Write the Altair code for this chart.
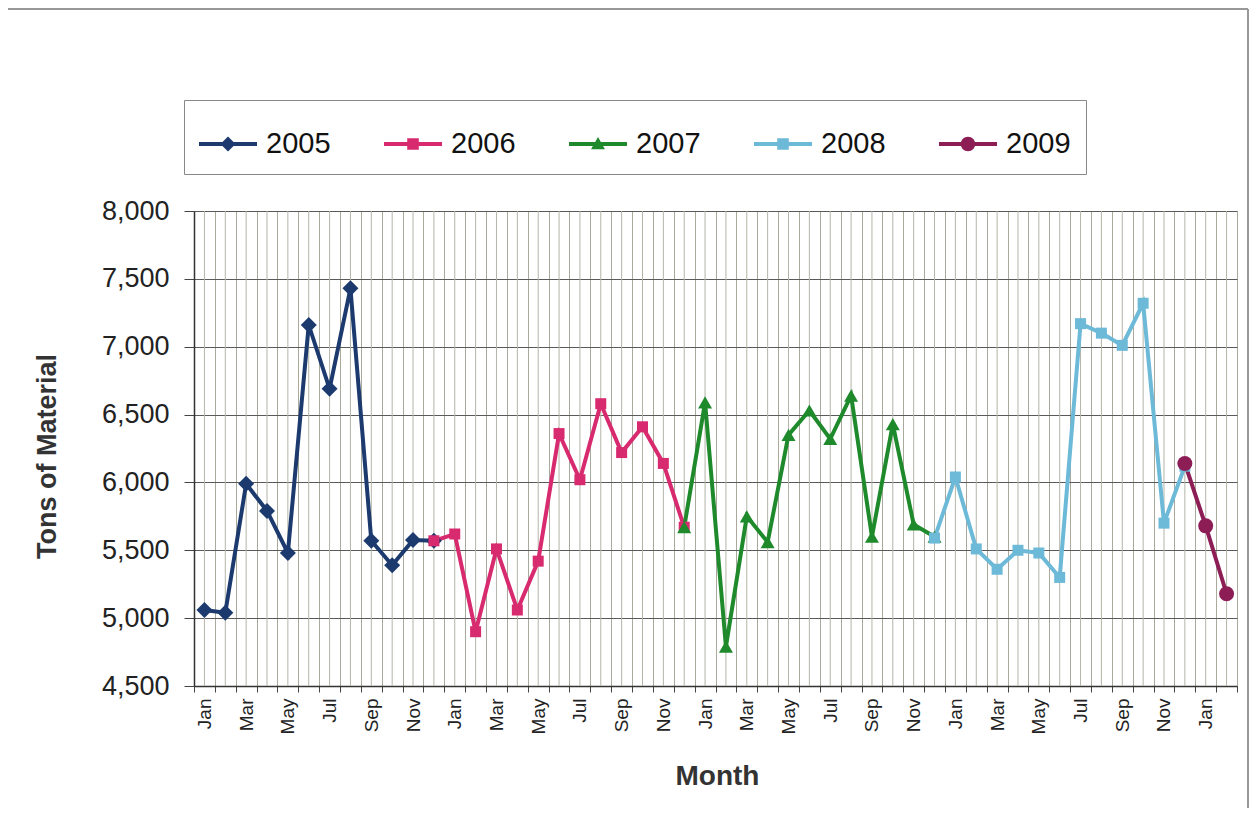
import altair as alt
import pandas as pd

# ---------------- data ----------------
YEARS = ["2005", "2006", "2007", "2008", "2009"]
# every other month is labelled on the axis
AXIS_LABELS = ["Jan", "", "Mar", "", "May", "", "Jul", "", "Sep", "", "Nov", ""]

# category axis: Jan 2005 .. Feb 2009
MONTH_KEYS = [f"{y}-{m:02d}" for y in (2005, 2006, 2007, 2008) for m in range(1, 13)]
MONTH_KEYS += ["2009-01", "2009-02"]

# each series starts at December of the previous year (joins the lines)
SERIES_START = ["2005-01", "2005-12", "2006-12", "2007-12", "2008-12"]
V2005 = [5060, 5040, 5990, 5790, 5480, 7160, 6690, 7430, 5570, 5390, 5575, 5570]
V2006 = [5570, 5620, 4900, 5510, 5060, 5420, 6360, 6020, 6580, 6220, 6410, 6140, 5670]
V2007 = [5670, 6590, 4790, 5750, 5560, 6350, 6530, 6320, 6640, 5600, 6430, 5690, 5600]
V2008 = [5590, 6040, 5510, 5360, 5500, 5480, 5300, 7170, 7100, 7010, 7320, 5700, 6120]
V2009 = [6140, 5680, 5180]
SERIES_VALUES = [V2005, V2006, V2007, V2008, V2009]

COLORS = ["#1C3A6E", "#D82A6E", "#1F8A2C", "#6DB9D8", "#8C1D55"]
SHAPES = ["diamond", "square", "triangle-up", "square", "circle"]
SIZES = [256, 121, 196, 121, 225]

LINE = "M-1,-0.07H1V0.07H-1Z"
LEGEND_PATHS = [
    LINE + "M0,-0.26L0.26,0L0,0.26L-0.26,0Z",
    LINE + "M-0.2,-0.2H0.2V0.2H-0.2Z",
    LINE + "M0,-0.24L0.24,0.18L-0.24,0.18Z",
    LINE + "M-0.2,-0.2H0.2V0.2H-0.2Z",
    LINE + "M0.25,0A0.25,0.25 0 1,1 -0.25,0A0.25,0.25 0 1,1 0.25,0Z",
]

rows = []
for year, start, vals in zip(YEARS, SERIES_START, SERIES_VALUES):
    i0 = MONTH_KEYS.index(start)
    for k, v in enumerate(vals):
        rows.append({"series": year, "ym": MONTH_KEYS[i0 + k], "value": v})
df = pd.DataFrame(rows)
months_df = pd.DataFrame({"ym": MONTH_KEYS})

FONT = "Liberation Sans"

label_array = "[" + ",".join(f"'{s}'" for s in AXIS_LABELS) + "]"
label_expr = (
    f"isString(datum.value) ? ({label_array}[toNumber(substring(datum.value, 5, 7)) - 1] || '') : ''"
)

X = alt.X(
    "ym:O",
    scale=alt.Scale(type="band", domain=MONTH_KEYS, paddingInner=0, paddingOuter=0),
    axis=alt.Axis(
        labelExpr=label_expr, labelAngle=270, labelAlign="right", labelBaseline="middle",
        labelFontSize=19, labelFont=FONT, labelColor="#222", labelPadding=6, labelOverlap=False,
        tickBand="extent", ticks=True, tickSize=6, tickColor="#444",
        domainColor="#333", domainWidth=1.5,
        grid=True, gridColor="#A9A99C", gridWidth=1,
        title="Month", titleFont=FONT, titleFontSize=28, titleFontWeight="bold", titleColor="#333",
        titleX=523, titleY=90, titleAlign="center", titleBaseline="middle",
    ),
)
Y = alt.Y(
    "value:Q",
    scale=alt.Scale(domain=[4500, 8000], nice=False, zero=False),
    axis=alt.Axis(
        values=[4500, 5000, 5500, 6000, 6500, 7000, 7500, 8000], format=",.0f",
        labelFontSize=27, labelFont=FONT, labelColor="#222", labelPadding=15,
        tickSize=10, tickColor="#444", domainColor="#333", domainWidth=1.5,
        grid=True, gridColor="#5A5A5A", gridWidth=1,
        title="Tons of Material", titleFont=FONT, titleFontSize=27, titleFontWeight="bold",
        titleColor="#333", titleX=-147, titleY=245, titleAlign="center", titleBaseline="middle",
    ),
)

color_scale = alt.Scale(domain=YEARS, range=COLORS)

center_grid = alt.Chart(months_df).mark_rule(color="#B4B4A8", strokeWidth=1).encode(
    x=X, y=alt.value(0), y2=alt.value(475)
)

# thin outer frame of the chart (top and right edges)
frame_top = alt.Chart(months_df).mark_rule(color="#999", strokeWidth=1.5).encode(
    x=alt.value(-194), x2=alt.value(1054), y=alt.value(-202)
)
frame_right = alt.Chart(months_df).mark_rule(color="#999", strokeWidth=1.5).encode(
    x=alt.value(1054), y=alt.value(-202), y2=alt.value(597)
)

lines = alt.Chart(df).mark_line(strokeWidth=4).encode(
    x=X, y=Y,
    color=alt.Color("series:N", scale=color_scale, legend=None),
    detail="series:N",
)

points = alt.Chart(df).mark_point(filled=True, opacity=1).encode(
    x=X, y=Y,
    color=alt.Color("series:N", scale=color_scale, legend=None),
    shape=alt.Shape("series:N", scale=alt.Scale(domain=YEARS, range=SHAPES), legend=None),
    size=alt.Size("series:N", scale=alt.Scale(type="ordinal", domain=YEARS, range=SIZES), legend=None),
)

legend = alt.Legend(
    orient="none", legendX=-10, legendY=-111, direction="horizontal", columns=5,
    columnPadding=53, labelFontSize=29, labelFont=FONT, labelColor="#111", labelOffset=9,
    symbolSize=3364, symbolStrokeWidth=0, symbolOpacity=1, padding=15,
    strokeColor="#888", fillColor="white", title=None,
)
legend_layer = alt.Chart(df).transform_filter("false").mark_point(
    filled=True, opacity=1, size=3364
).encode(
    x=X, y=Y,
    color=alt.Color("series:N", scale=color_scale, legend=legend),
    shape=alt.Shape("series:N", scale=alt.Scale(domain=YEARS, range=LEGEND_PATHS), legend=legend),
)

chart = alt.layer(center_grid, frame_top, frame_right, lines, points, legend_layer).resolve_scale(
    color="independent", shape="independent"
).properties(
    width=1043, height=475,
    autosize=alt.AutoSizeParams(type="none"),
    padding={"left": 186, "top": 203, "right": 12, "bottom": 130},
    title=alt.TitleParams(
        "Waste Hauled Off-Site: 2005 thru February 2009",
        font=FONT, fontSize=42, fontWeight="bold", color="#333",
        anchor="middle", frame="group", offset=13, dx=-82,
    ),
).configure_view(stroke="#666", fill="#F4F3E1").configure(background="white")

chart.save("out.html", embed_options={"renderer": "svg", "actions": False})
